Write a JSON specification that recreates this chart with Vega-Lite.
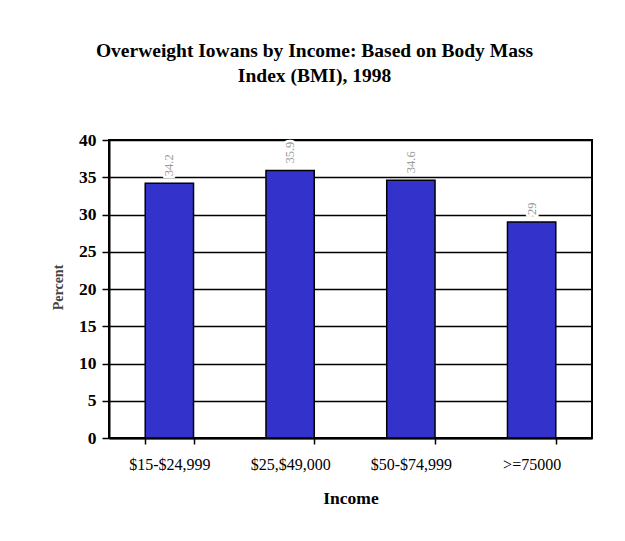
{
  "$schema": "https://vega.github.io/schema/vega-lite/v6.json",
  "width": 483,
  "height": 298,
  "autosize": "none",
  "padding": {"left": 109, "top": 140, "right": 33, "bottom": 103},
  "background": "white",
  "title": {
    "text": ["Overweight Iowans by Income:  Based on Body Mass", "Index (BMI), 1998"],
    "font": "Liberation Serif",
    "fontSize": 19.5,
    "fontWeight": "bold",
    "color": "black",
    "anchor": "middle",
    "dx": -36,
    "offset": 45,
    "lineHeight": 25
  },
  "data": {
    "values": [
      {"Income": "$15-$24,999", "Percent": 34.2},
      {"Income": "$25,$49,000", "Percent": 35.9},
      {"Income": "$50-$74,999", "Percent": 34.6},
      {"Income": ">=75000", "Percent": 29}
    ]
  },
  "encoding": {
    "x": {
      "field": "Income",
      "type": "nominal",
      "sort": null,
      "scale": {"paddingInner": 0.6, "paddingOuter": 0.3},
      "axis": {
        "title": "Income",
        "labelAngle": 0,
        "labelFont": "Liberation Serif",
        "labelFontSize": 16,
        "labelColor": "black",
        "labelPadding": 12,
        "titleFont": "Liberation Serif",
        "titleFontSize": 17.5,
        "titleFontWeight": "bold",
        "titleColor": "black",
        "titlePadding": 17,
        "domainColor": "black",
        "domainWidth": 2,
        "tickColor": "black",
        "tickWidth": 1.5,
        "tickSize": 6,
        "tickBand": "extent"
      }
    },
    "y": {
      "field": "Percent",
      "type": "quantitative",
      "scale": {"domain": [0, 40]},
      "axis": {
        "title": "Percent",
        "values": [0, 5, 10, 15, 20, 25, 30, 35, 40],
        "labelFont": "Liberation Serif",
        "labelFontSize": 17.5,
        "labelFontWeight": "bold",
        "labelColor": "black",
        "labelPadding": 6,
        "titleFont": "Liberation Serif",
        "titleFontSize": 14,
        "titleFontWeight": "bold",
        "titleColor": "#444",
        "titleX": -51,
        "titleY": 147,
        "titleAlign": "center",
        "titleBaseline": "middle",
        "domainColor": "black",
        "domainWidth": 2,
        "tickColor": "black",
        "tickWidth": 1.5,
        "tickSize": 7,
        "grid": true,
        "gridColor": "black",
        "gridWidth": 1.5
      }
    }
  },
  "layer": [
    {
      "mark": {"type": "bar", "fill": "#3333CC", "stroke": "black", "strokeWidth": 1.5}
    },
    {
      "mark": {
        "type": "text",
        "angle": -90,
        "align": "left",
        "baseline": "middle",
        "dx": 7,
        "font": "Liberation Serif",
        "fontSize": 12.5,
        "color": "white",
        "stroke": "white",
        "strokeWidth": 5
      },
      "encoding": {"text": {"field": "Percent", "type": "quantitative"}}
    },
    {
      "mark": {
        "type": "text",
        "angle": -90,
        "align": "left",
        "baseline": "middle",
        "dx": 7,
        "font": "Liberation Serif",
        "fontSize": 12.5,
        "color": "#999"
      },
      "encoding": {"text": {"field": "Percent", "type": "quantitative"}}
    }
  ],
  "config": {
    "view": {"stroke": "black", "strokeWidth": 2}
  }
}
